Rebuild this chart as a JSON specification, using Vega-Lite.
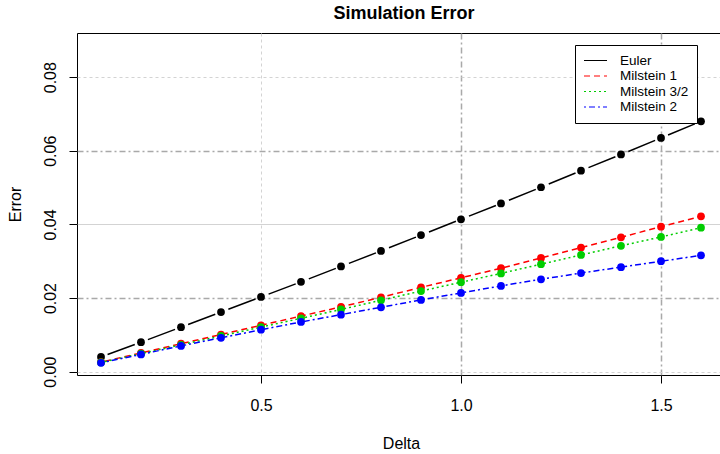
{
  "$schema": "https://vega.github.io/schema/vega-lite/v6.json",
  "width": 644,
  "height": 342,
  "autosize": {"type": "none"},
  "padding": {"left": 77, "top": 33, "right": 0, "bottom": 79},
  "background": "white",
  "title": {"text": "Simulation Error", "font": "Liberation Sans", "fontSize": 18, "fontWeight": "bold", "color": "black", "anchor": "middle", "frame": "group", "baseline": "alphabetic", "offset": 14, "dx": 5, "dy": 18},
  "config": {
    "view": {"stroke": "black", "strokeWidth": 1},
    "axis": {"domain": false, "tickColor": "black", "tickSize": 8, "tickWidth": 1, "labelFont": "Liberation Sans", "labelFontSize": 16, "labelColor": "black", "titleFont": "Liberation Sans", "titleFontSize": 16, "titleFontWeight": "normal", "titleColor": "black", "grid": true, "labelOverlap": false, "labelFlush": false},
    "legend": {"orient": "none", "legendX": 498, "legendY": 12, "strokeColor": "black", "fillColor": "white", "padding": 8, "symbolType": "stroke", "symbolSize": 529, "symbolStrokeWidth": 1.2, "labelFont": "Liberation Sans", "labelFontSize": 13.5, "labelColor": "black", "labelOffset": 12, "rowPadding": 0.5, "clipHeight": 15, "cornerRadius": 0}
  },
  "data": {"values": [
    {"delta": 0.1, "error": 0.0040, "method": "Euler"},
    {"delta": 0.2, "error": 0.0080, "method": "Euler"},
    {"delta": 0.3, "error": 0.0121, "method": "Euler"},
    {"delta": 0.4, "error": 0.0162, "method": "Euler"},
    {"delta": 0.5, "error": 0.0203, "method": "Euler"},
    {"delta": 0.6, "error": 0.0244, "method": "Euler"},
    {"delta": 0.7, "error": 0.0286, "method": "Euler"},
    {"delta": 0.8, "error": 0.0328, "method": "Euler"},
    {"delta": 0.9, "error": 0.0371, "method": "Euler"},
    {"delta": 1.0, "error": 0.0414, "method": "Euler"},
    {"delta": 1.1, "error": 0.0457, "method": "Euler"},
    {"delta": 1.2, "error": 0.0501, "method": "Euler"},
    {"delta": 1.3, "error": 0.0546, "method": "Euler"},
    {"delta": 1.4, "error": 0.0590, "method": "Euler"},
    {"delta": 1.5, "error": 0.0635, "method": "Euler"},
    {"delta": 1.6, "error": 0.0680, "method": "Euler"},
    {"delta": 0.1, "error": 0.0026, "method": "Milstein 1"},
    {"delta": 0.2, "error": 0.0051, "method": "Milstein 1"},
    {"delta": 0.3, "error": 0.0076, "method": "Milstein 1"},
    {"delta": 0.4, "error": 0.0101, "method": "Milstein 1"},
    {"delta": 0.5, "error": 0.0126, "method": "Milstein 1"},
    {"delta": 0.6, "error": 0.0151, "method": "Milstein 1"},
    {"delta": 0.7, "error": 0.0176, "method": "Milstein 1"},
    {"delta": 0.8, "error": 0.0202, "method": "Milstein 1"},
    {"delta": 0.9, "error": 0.0229, "method": "Milstein 1"},
    {"delta": 1.0, "error": 0.0255, "method": "Milstein 1"},
    {"delta": 1.1, "error": 0.0281, "method": "Milstein 1"},
    {"delta": 1.2, "error": 0.0309, "method": "Milstein 1"},
    {"delta": 1.3, "error": 0.0337, "method": "Milstein 1"},
    {"delta": 1.4, "error": 0.0365, "method": "Milstein 1"},
    {"delta": 1.5, "error": 0.0394, "method": "Milstein 1"},
    {"delta": 1.6, "error": 0.0422, "method": "Milstein 1"},
    {"delta": 0.1, "error": 0.0025, "method": "Milstein 3/2"},
    {"delta": 0.2, "error": 0.0049, "method": "Milstein 3/2"},
    {"delta": 0.3, "error": 0.0073, "method": "Milstein 3/2"},
    {"delta": 0.4, "error": 0.0097, "method": "Milstein 3/2"},
    {"delta": 0.5, "error": 0.0121, "method": "Milstein 3/2"},
    {"delta": 0.6, "error": 0.0145, "method": "Milstein 3/2"},
    {"delta": 0.7, "error": 0.0169, "method": "Milstein 3/2"},
    {"delta": 0.8, "error": 0.0194, "method": "Milstein 3/2"},
    {"delta": 0.9, "error": 0.0219, "method": "Milstein 3/2"},
    {"delta": 1.0, "error": 0.0243, "method": "Milstein 3/2"},
    {"delta": 1.1, "error": 0.0267, "method": "Milstein 3/2"},
    {"delta": 1.2, "error": 0.0292, "method": "Milstein 3/2"},
    {"delta": 1.3, "error": 0.0317, "method": "Milstein 3/2"},
    {"delta": 1.4, "error": 0.0342, "method": "Milstein 3/2"},
    {"delta": 1.5, "error": 0.0366, "method": "Milstein 3/2"},
    {"delta": 1.6, "error": 0.0391, "method": "Milstein 3/2"},
    {"delta": 0.1, "error": 0.0024, "method": "Milstein 2"},
    {"delta": 0.2, "error": 0.0047, "method": "Milstein 2"},
    {"delta": 0.3, "error": 0.0070, "method": "Milstein 2"},
    {"delta": 0.4, "error": 0.0092, "method": "Milstein 2"},
    {"delta": 0.5, "error": 0.0114, "method": "Milstein 2"},
    {"delta": 0.6, "error": 0.0135, "method": "Milstein 2"},
    {"delta": 0.7, "error": 0.0155, "method": "Milstein 2"},
    {"delta": 0.8, "error": 0.0175, "method": "Milstein 2"},
    {"delta": 0.9, "error": 0.0195, "method": "Milstein 2"},
    {"delta": 1.0, "error": 0.0214, "method": "Milstein 2"},
    {"delta": 1.1, "error": 0.0233, "method": "Milstein 2"},
    {"delta": 1.2, "error": 0.0251, "method": "Milstein 2"},
    {"delta": 1.3, "error": 0.0268, "method": "Milstein 2"},
    {"delta": 1.4, "error": 0.0284, "method": "Milstein 2"},
    {"delta": 1.5, "error": 0.0300, "method": "Milstein 2"},
    {"delta": 1.6, "error": 0.0316, "method": "Milstein 2"}
  ]},
  "encoding": {
    "x": {"field": "delta", "type": "quantitative",
      "scale": {"domain": [0.04, 1.65], "nice": false, "zero": false},
      "axis": {"values": [0.5, 1.0, 1.5], "format": ".1f", "labelBaseline": "alphabetic", "labelAlign": "center", "labelPadding": 27,
        "title": "Delta", "titleX": 324, "titleY": 73, "titleAlign": "center", "titleBaseline": "alphabetic",
        "gridColor": {"condition": {"test": "datum.value > 0.75", "value": "#a9a9a9"}, "value": "#d3d3d3"},
        "gridDash": {"condition": {"test": "datum.value > 0.75", "value": [6, 3, 2, 3]}, "value": [3, 3]},
        "gridWidth": {"condition": {"test": "datum.value > 0.75", "value": 1.5}, "value": 1}}},
    "y": {"field": "error", "type": "quantitative",
      "scale": {"domain": [-0.0009, 0.092], "nice": false, "zero": false},
      "axis": {"values": [0, 0.02, 0.04, 0.06, 0.08], "format": ".2f", "labelAngle": 270, "labelAlign": "center", "labelBaseline": "alphabetic", "labelPadding": 14,
        "title": "Error", "titleAngle": 270, "titleX": -62, "titleY": 171, "titleAlign": "center", "titleBaseline": "middle",
        "gridColor": {"condition": {"test": "abs(datum.value - 0.02) < 1e-6 || abs(datum.value - 0.06) < 1e-6", "value": "#a9a9a9"}, "value": "#d3d3d3"},
        "gridDash": {"condition": [{"test": "abs(datum.value - 0.02) < 1e-6 || abs(datum.value - 0.06) < 1e-6", "value": [6, 3, 2, 3]}, {"test": "abs(datum.value - 0.04) < 1e-6", "value": []}], "value": [3, 3]},
        "gridWidth": {"condition": {"test": "abs(datum.value - 0.02) < 1e-6 || abs(datum.value - 0.06) < 1e-6", "value": 1.5}, "value": 1}}}
  },
  "layer": [
    {"mark": {"type": "line", "strokeWidth": 1.5, "strokeDashOffset": 36, "clip": true},
      "encoding": {
        "color": {"field": "method", "type": "nominal",
          "scale": {"domain": ["Euler", "Milstein 1", "Milstein 3/2", "Milstein 2"], "range": ["#000000", "#ff0000", "#00cd00", "#0000ff"]},
          "legend": {"title": null}},
        "strokeDash": {"field": "method", "type": "nominal",
          "scale": {"domain": ["Euler", "Milstein 1", "Milstein 3/2", "Milstein 2"], "range": [[29, 14], [6, 4], [2, 3], [2, 3, 6, 3]]},
          "legend": {"title": null}}}},
    {"mark": {"type": "point", "filled": true, "size": 60, "opacity": 1, "strokeWidth": 0, "clip": true},
      "encoding": {
        "fill": {"field": "method", "type": "nominal",
          "scale": {"domain": ["Euler", "Milstein 1", "Milstein 3/2", "Milstein 2"], "range": ["#000000", "#ff0000", "#00cd00", "#0000ff"]},
          "legend": null}}}
  ]
}
